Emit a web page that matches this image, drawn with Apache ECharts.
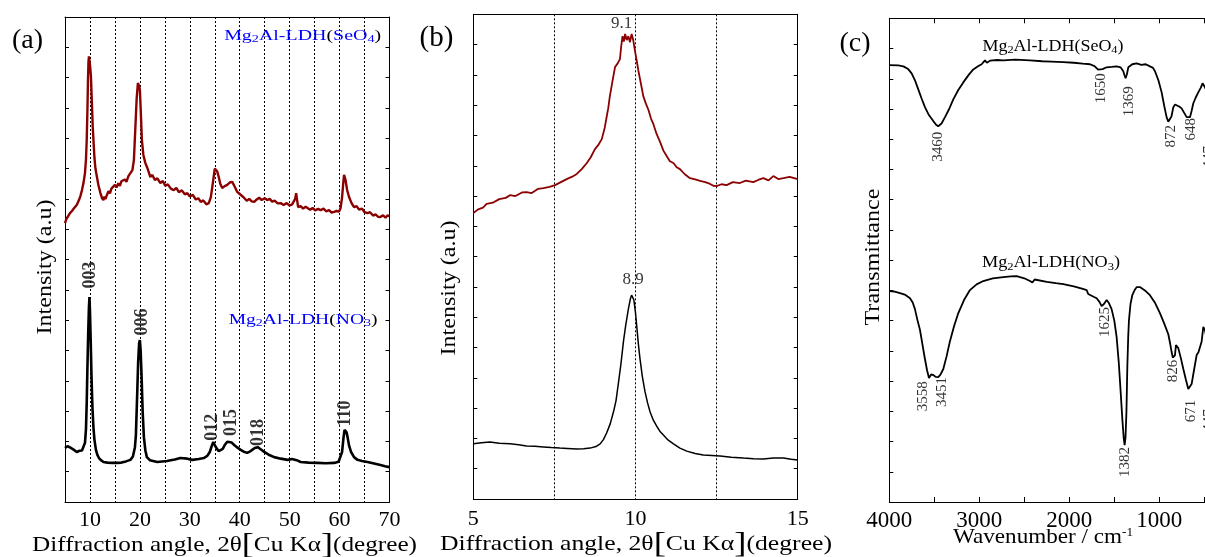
<!DOCTYPE html>
<html><head><meta charset="utf-8">
<script src="https://cdn.jsdelivr.net/npm/echarts@6/dist/echarts.min.js"></script>
<style>html,body{margin:0;padding:0;background:#fff}#c{width:1205px;height:557px}</style>
</head><body><div id="c"></div>
<script>
// ---------- data (a): XRD 5-70 deg ----------
const xrdA_SeO4 = [[5.0,92.0],[5.3,93.5],[5.6,94.2],[6.0,95.3],[6.4,96.0],[6.8,96.9],[7.35,98.0],[7.8,99.6],[8.1,101.0],[8.4,102.9],[8.7,105.2],[9.0,108.5],[9.2,113.0],[9.35,119.4],[9.5,130.0],[9.6,139.0],[9.7,145.2],[9.8,147.0],[9.9,146.5],[10.05,143.5],[10.2,140.2],[10.4,131.0],[10.55,124.0],[10.7,119.4],[10.9,113.5],[11.1,110.0],[11.4,107.2],[11.7,104.5],[12.1,101.9],[12.4,100.3],[12.7,99.6],[12.9,100.8],[13.1,99.9],[13.4,101.3],[13.7,102.5],[14.0,101.8],[14.3,103.4],[14.7,103.6],[15.0,104.6],[15.3,103.8],[15.7,105.1],[16.0,104.3],[16.3,105.8],[16.7,105.2],[17.0,106.4],[17.3,105.6],[17.7,107.5],[18.1,107.2],[18.5,109.5],[18.8,112.8],[19.1,123.7],[19.35,133.0],[19.6,138.2],[19.8,137.5],[20.0,135.9],[20.2,128.0],[20.4,119.4],[20.7,114.5],[21.1,111.8],[21.5,110.2],[22.1,107.2],[22.5,107.9],[23.0,106.2],[23.5,106.8],[24.1,105.2],[24.6,105.9],[25.1,104.3],[25.6,104.8],[26.2,103.4],[26.8,102.9],[27.3,103.6],[27.8,102.2],[28.4,102.8],[29.0,101.5],[29.5,101.9],[30.0,100.8],[30.6,101.3],[31.2,99.8],[31.7,100.2],[32.2,99.0],[32.7,99.5],[33.3,98.2],[33.8,98.6],[34.2,100.5],[34.5,103.9],[34.8,107.5],[35.0,110.0],[35.2,110.5],[35.5,109.0],[35.8,107.2],[36.1,105.0],[36.5,103.6],[37.0,104.2],[37.5,104.6],[38.0,105.4],[38.5,105.6],[39.0,104.0],[39.5,102.3],[40.0,101.6],[40.4,101.0],[40.9,100.3],[41.4,99.4],[41.9,100.0],[42.4,99.2],[42.9,99.0],[43.4,99.8],[43.9,100.4],[44.4,99.6],[45.0,100.2],[45.5,99.6],[46.0,100.0],[46.5,99.1],[47.0,99.4],[47.6,98.5],[48.2,98.6],[48.8,98.0],[49.4,98.6],[50.0,97.8],[50.5,98.2],[50.9,98.0],[51.1,100.0],[51.3,101.9],[51.5,99.5],[51.7,97.3],[52.2,97.6],[52.7,96.8],[53.2,97.4],[53.6,97.0],[54.1,96.4],[54.6,97.0],[55.1,96.2],[55.7,96.7],[56.2,96.3],[56.8,96.8],[57.3,95.9],[57.9,96.3],[58.4,95.5],[58.9,95.7],[59.4,96.0],[59.9,95.8],[60.2,97.0],[60.5,100.5],[60.75,105.5],[60.9,107.9],[61.05,107.5],[61.2,106.2],[61.5,103.0],[61.9,100.6],[62.4,98.6],[62.9,97.3],[63.4,97.6],[63.9,96.5],[64.5,96.8],[65.0,95.6],[65.6,95.3],[66.1,95.6],[66.7,94.5],[67.2,94.9],[67.7,94.1],[68.2,94.0],[68.7,94.6],[69.2,93.8],[69.6,94.5],[70.0,94.4]];
const xrdA_NO3 = [[5.0,17.8],[5.5,18.4],[6.0,18.0],[6.3,18.1],[6.8,17.2],[7.35,16.5],[7.9,16.9],[8.4,17.0],[8.7,17.2],[9.0,19.5],[9.2,24.0],[9.35,32.7],[9.5,45.0],[9.65,56.0],[9.8,64.5],[9.9,67.6],[10.0,63.0],[10.15,53.0],[10.3,42.0],[10.5,31.0],[10.7,24.5],[10.9,20.5],[11.2,17.2],[11.5,15.5],[11.8,14.5],[12.2,13.8],[12.7,13.2],[13.5,13.0],[14.5,12.9],[15.4,12.9],[16.3,13.0],[17.2,13.4],[18.1,13.9],[18.6,15.0],[19.0,18.0],[19.2,22.0],[19.45,35.0],[19.65,46.0],[19.85,52.5],[20.0,53.4],[20.15,50.0],[20.35,41.0],[20.55,30.0],[20.8,21.4],[21.1,17.0],[21.4,14.8],[22.0,13.8],[23.5,13.2],[25.4,13.5],[27.0,14.0],[28.1,14.5],[29.5,14.3],[30.5,13.9],[31.8,14.2],[32.8,14.5],[33.5,15.2],[34.0,16.5],[34.4,18.5],[34.7,19.8],[35.0,18.8],[35.4,17.6],[35.8,16.8],[36.2,16.5],[36.6,17.5],[37.0,18.8],[37.5,19.9],[37.9,20.5],[38.4,19.6],[38.9,18.8],[39.5,18.0],[40.2,17.2],[40.8,16.6],[41.5,16.2],[42.0,16.6],[42.5,17.2],[43.0,17.8],[43.6,18.1],[44.2,17.4],[44.9,16.5],[45.8,15.6],[46.9,14.8],[48.2,14.3],[49.6,13.9],[50.5,14.2],[50.9,14.5],[51.4,13.8],[52.2,13.2],[53.8,13.0],[55.6,12.9],[57.2,12.8],[58.9,12.9],[59.8,13.3],[60.2,13.9],[60.5,16.5],[60.8,21.4],[61.0,23.8],[61.2,24.4],[61.4,23.0],[61.6,21.4],[61.9,18.6],[62.3,16.5],[62.9,14.8],[63.6,13.9],[64.5,13.5],[65.6,13.2],[66.9,12.7],[68.2,12.2],[69.1,11.8],[70.0,11.5]];
const peakLabelsA = [['003',10.1,74.9],['006',20.46,59.4],['012',34.5,24.7],['015',38.3,26.2],['018',43.8,22.9],['110',61.2,29.2]];
const sampleLabelsA = [['SeO','4',52.6,153.6],['NO','3',52.7,59.9]];
const xTicksA = [10,20,30,40,50,60,70];

// ---------- data (b): XRD 5-15 deg ----------
const xrdB_SeO4 = [[5.0,94.4],[5.15,95.6],[5.3,96.2],[5.41,97.4],[5.6,97.8],[5.8,99.0],[6.0,99.4],[6.13,100.3],[6.3,100.0],[6.5,101.2],[6.64,101.3],[6.8,101.0],[7.0,102.4],[7.16,102.6],[7.35,103.0],[7.52,103.6],[7.7,104.6],[7.88,105.6],[8.05,106.4],[8.19,107.3],[8.35,109.0],[8.5,110.9],[8.62,112.8],[8.75,115.5],[8.85,116.8],[8.96,118.8],[9.05,122.5],[9.11,126.1],[9.16,129.0],[9.21,133.0],[9.3,138.5],[9.37,142.6],[9.45,143.8],[9.52,145.2],[9.56,149.5],[9.6,152.8],[9.64,151.0],[9.68,153.5],[9.73,151.5],[9.78,152.8],[9.83,150.8],[9.88,153.5],[9.93,151.5],[9.98,148.2],[10.04,144.5],[10.09,141.3],[10.16,137.5],[10.24,133.0],[10.32,130.5],[10.4,128.4],[10.48,125.5],[10.55,123.8],[10.65,120.5],[10.76,117.8],[10.86,115.0],[10.96,113.2],[11.06,111.5],[11.17,110.9],[11.27,109.5],[11.37,108.9],[11.52,107.2],[11.68,105.9],[11.84,105.5],[11.99,105.0],[12.15,104.6],[12.3,104.0],[12.4,103.4],[12.5,103.3],[12.65,103.9],[12.81,103.6],[13.0,104.6],[13.22,104.3],[13.4,105.1],[13.63,104.6],[13.8,105.4],[13.94,105.9],[14.1,105.2],[14.25,106.6],[14.4,105.6],[14.56,105.9],[14.75,106.3],[15.0,105.6]];
const xrdB_NO3 = [[5.0,18.2],[5.25,18.6],[5.51,18.8],[5.8,18.4],[6.13,18.2],[6.4,17.9],[6.64,17.5],[6.9,17.4],[7.16,17.2],[7.4,17.0],[7.67,16.8],[7.9,16.7],[8.19,16.5],[8.4,16.6],[8.6,16.8],[8.78,17.3],[8.91,18.2],[9.01,19.6],[9.11,21.8],[9.22,24.8],[9.32,28.7],[9.4,32.5],[9.47,38.0],[9.55,44.5],[9.63,52.1],[9.7,57.5],[9.78,62.7],[9.84,66.0],[9.88,67.3],[9.92,67.0],[9.95,65.7],[10.0,61.5],[10.04,56.8],[10.09,51.0],[10.14,46.2],[10.21,40.5],[10.29,35.6],[10.37,31.8],[10.45,28.7],[10.55,26.0],[10.65,24.1],[10.75,22.4],[10.86,21.1],[11.0,19.5],[11.17,18.2],[11.37,16.8],[11.58,15.8],[11.84,15.0],[12.09,14.5],[12.35,14.4],[12.61,14.2],[12.95,13.8],[13.33,13.5],[13.64,13.3],[13.94,13.2],[14.25,13.5],[14.56,13.5],[14.8,13.1],[15.0,12.9]];
const peakLabelsB = [['9.1',9.57,156.8],['8.9',9.93,72.3]];
const xTicksB = [5,10,15];

// ---------- data (c): FTIR ----------
const ftir_SeO4 = [[4000,144.5],[3900,144.4],[3844,144.1],[3790,143.2],[3752,141.8],[3715,139.5],[3678,136.5],[3640,133.4],[3604,130.6],[3560,128.0],[3511,126.0],[3480,124.8],[3456,124.3],[3420,125.2],[3381,127.3],[3335,130.0],[3289,133.2],[3235,136.2],[3178,138.8],[3120,141.2],[3067,143.1],[3010,144.2],[2974,144.8],[2937,146.1],[2915,145.3],[2900,145.5],[2880,146.0],[2800,146.2],[2733,146.1],[2600,146.3],[2437,146.1],[2300,145.8],[2200,145.7],[2067,145.5],[1950,145.3],[1850,145.0],[1770,144.8],[1720,144.2],[1680,143.0],[1659,142.8],[1630,143.2],[1585,143.8],[1530,143.9],[1474,144.1],[1430,143.8],[1400,142.5],[1385,141.0],[1374,140.2],[1360,141.5],[1344,143.8],[1300,144.8],[1252,145.1],[1200,144.6],[1150,144.8],[1104,144.1],[1070,143.6],[1048,142.5],[1010,139.5],[974,135.5],[945,131.0],[919,127.3],[900,125.8],[881,125.3],[865,127.5],[844,130.6],[825,131.5],[807,131.2],[780,130.8],[752,130.2],[725,128.8],[696,127.3],[675,126.8],[659,127.3],[640,129.5],[622,131.9],[595,133.8],[567,135.5],[540,137.0],[519,138.5],[505,138.0],[493,137.2],[470,135.5],[447,133.5],[420,133.0],[400,133.5]];
const ftir_NO3 = [[4000,69.8],[3940,69.6],[3881,69.1],[3820,68.5],[3770,67.4],[3740,66.0],[3715,63.8],[3690,60.5],[3659,56.9],[3630,51.8],[3604,47.3],[3580,43.5],[3559,41.0],[3535,42.2],[3511,42.0],[3485,41.4],[3456,41.3],[3430,42.2],[3400,44.0],[3365,48.0],[3326,53.2],[3280,58.2],[3233,62.5],[3170,66.8],[3104,70.1],[3030,72.0],[2956,73.1],[2850,74.0],[2733,74.4],[2650,74.6],[2585,74.7],[2500,74.0],[2437,73.1],[2410,72.6],[2400,72.4],[2385,73.6],[2363,73.4],[2250,72.8],[2150,72.4],[2067,72.1],[1950,71.3],[1850,70.5],[1807,70.1],[1790,68.8],[1770,68.4],[1730,67.9],[1696,67.4],[1665,66.2],[1641,64.8],[1615,65.5],[1585,66.8],[1560,65.8],[1530,63.8],[1500,60.0],[1474,54.5],[1450,46.0],[1430,36.7],[1410,27.1],[1395,21.0],[1385,18.8],[1375,21.5],[1365,30.0],[1355,45.0],[1345,55.0],[1337,60.2],[1320,65.5],[1300,68.4],[1270,70.3],[1250,71.1],[1215,71.1],[1160,70.0],[1104,68.4],[1050,66.0],[993,62.5],[945,59.0],[900,55.5],[880,52.5],[863,49.6],[850,47.8],[837,47.3],[826,48.5],[815,51.9],[800,51.5],[789,50.9],[760,47.5],[733,44.0],[705,40.5],[678,37.4],[660,37.2],[641,39.0],[615,43.5],[585,48.6],[565,49.5],[548,49.6],[530,53.0],[511,57.9],[500,57.5],[493,56.9],[470,53.5],[447,50.5],[420,50.0],[400,51.0]];
const peakLabelsC = [['3460',3459,117.5],['1650',1648,136.9],['1369',1340,132.6],['872',868,121.0],['648',642,123.3],['447',447,114.0],['3558',3626,35.0],['3451',3414,36.4],['1625',1602,59.5],['1382',1380,13.2],['826',848,43.3],['671',647,30.1],['447',447,27.0]];
const sampleLabelsC = [['SeO','4',2181,150.7],['NO','3',2203,79.0]];
const xTicksC = [1000,2000,3000,4000];

// ---------- rendering ----------
const SERIF = '"Liberation Serif","Times New Roman",serif';
const RED = '#8b0000';
const BLUE = '#0000ff';
const chart = echarts.init(document.getElementById('c'), null, {renderer:'canvas'});

function measure(segs){
  const ctx = document.createElement('canvas').getContext('2d');
  let w = 0;
  segs.forEach(([t,size,weight])=>{ctx.font=(weight||'normal')+' '+size+'px '+SERIF; w+=ctx.measureText(t).width;});
  return w;
}
function bottomAxis(grid,min,max,interval,ticks,opts){
  return Object.assign({
    type:'value',gridIndex:grid,min:min,max:max,interval:interval,position:'bottom',
    axisLine:{show:true,onZero:false,lineStyle:{color:'#000',width:1}},
    axisTick:{show:false},
    axisLabel:{show:true,color:'#000',fontFamily:SERIF,fontSize:22,margin:7,
      formatter:v=>ticks.indexOf(v)>=0?String(v):''},
    splitLine:{show:false}
  },opts||{});
}
function topAxis(grid,min,max,interval,opts){
  return Object.assign({
    type:'value',gridIndex:grid,min:min,max:max,interval:interval,position:'top',
    axisLine:{show:true,onZero:false,lineStyle:{color:'#000',width:1}},
    axisTick:{show:false},axisLabel:{show:false},splitLine:{show:false}
  },opts||{});
}
function yAx(grid,pos){
  return {type:'value',gridIndex:grid,min:0,max:160,interval:10,position:pos,
    axisLine:{show:true,onZero:false,lineStyle:{color:'#000',width:1}},
    axisTick:{show:true,inside:true,length:4,lineStyle:{color:'#000'}},
    axisLabel:{show:false},splitLine:{show:false}};
}
function line(data,xi,yi,color,width){
  return {type:'line',data:data,xAxisIndex:xi,yAxisIndex:yi,showSymbol:false,symbol:'none',
    lineStyle:{color:color,width:width},itemStyle:{color:color},silent:true,z:3};
}
function labels(list,xi,yi,lab){
  return {type:'scatter',xAxisIndex:xi,yAxisIndex:yi,symbolSize:1,silent:true,z:5,
    itemStyle:{color:'rgba(0,0,0,0)'},
    label:Object.assign({show:true,position:'inside',formatter:p=>p.name,fontFamily:SERIF,color:'#000'},lab),
    data:list.map(d=>({name:d[0],value:[d[1],d[2]]}))};
}
const dotted = {show:true,lineStyle:{color:'#000',width:1,type:[2,2]}};
const gridBase = {outerBoundsMode:'none',containLabel:false};

const option = {
  animation:false,
  backgroundColor:'#fff',
  grid:[
    Object.assign({left:65,top:17,width:324.5,height:485},gridBase),
    Object.assign({left:473.3,top:14.3,width:324.4,height:484.7},gridBase),
    Object.assign({left:889.3,top:18.3,width:360,height:483.7},gridBase)
  ],
  xAxis:[
    bottomAxis(0,5,70,5,xTicksA,{splitLine:dotted}),
    topAxis(0,5,70,5),
    bottomAxis(1,5,15,2.5,xTicksB,{splitLine:dotted,axisLabel:{show:true,color:'#000',fontFamily:SERIF,fontSize:22,margin:9,formatter:v=>xTicksB.indexOf(v)>=0?String(v):''}}),
    topAxis(1,5,15,2.5),
    bottomAxis(2,0,4000,500,xTicksC,{inverse:true,axisTick:{show:true,inside:true,length:5,lineStyle:{color:'#000'}},
      axisLabel:{show:true,color:'#000',fontFamily:SERIF,fontSize:23,margin:7,formatter:v=>xTicksC.indexOf(v)>=0?String(v):''}}),
    topAxis(2,0,4000,500,{inverse:true,axisTick:{show:true,inside:true,length:5,lineStyle:{color:'#000'}}})
  ],
  yAxis:[yAx(0,'left'),yAx(0,'right'),yAx(1,'left'),yAx(1,'right'),yAx(2,'left'),yAx(2,'right')],
  series:[
    line(xrdA_SeO4,0,0,RED,2.4),
    line(xrdA_NO3,0,0,'#000',2.6),
    labels(peakLabelsA,0,0,{rotate:90,fontSize:18,fontWeight:'bold'}),
    line(xrdB_SeO4,2,2,RED,1.8),
    line(xrdB_NO3,2,2,'#000',1.5),
    labels(peakLabelsB,2,2,{fontSize:17}),
    line(ftir_SeO4,4,4,'#000',1.8),
    line(ftir_NO3,4,4,'#000',1.8),
    labels(peakLabelsC,4,4,{rotate:90,fontSize:15})
  ]
};
chart.setOption(option);

// ---------- text overlays (stretched to the reference's proportions) ----------
function gtext(text,x,y,size,opts,rich){
  const st = {text:text,fontSize:size,fontFamily:SERIF,fill:'#000',align:'center',verticalAlign:'middle'};
  if(rich) st.rich = rich;
  return Object.assign({type:'text',x:x,y:y,silent:true,z:10,style:st},opts||{});
}
const xTitleSegs = [['Diffraction angle, 2θ',21],['[',30],['Cu Kα',21],[']',30],['(degree)',21]];
const xTitleW = measure(xTitleSegs);
const xTitleText = 'Diffraction angle, 2θ{b|[}Cu Kα{b|]}(degree)';
const xTitleRich = {b:{fontSize:30,fontFamily:SERIF,fill:'#000'}};
const wnW = measure([['Wavenumber / cm',21],['-1',12]]);
const intW = measure([['Intensity (a.u)',22]]);
const trW = measure([['Transmittance',22]]);

function sampleText(lbl,xi,yi,size,sub,color,target){
  const p = chart.convertToPixel({xAxisIndex:xi,yAxisIndex:yi},[lbl[2],lbl[3]]);
  const w = measure([['Mg',size],['2',sub],['Al-LDH(',size],[lbl[0],size],[lbl[1],sub],[')',size]]);
  const rich = {
    m:{fontSize:size,fontFamily:SERIF,fill:color},
    s:{fontSize:sub,fontFamily:SERIF,fill:color,verticalAlign:'bottom',lineHeight:size+2},
    k:{fontSize:size,fontFamily:SERIF,fill:'#000'}
  };
  const txt = '{m|Mg}{s|2}{m|Al-LDH}{k|(}{m|'+lbl[0]+'}{s|'+lbl[1]+'}{k|)}';
  return gtext(txt,p[0],p[1],size,{scaleX:target/w},rich);
}

const graphics = [
  gtext('(a)',27.5,41,28),
  gtext('(b)',436.5,38,29),
  gtext('(c)',855,44,28),
  gtext(xTitleText,224.5,545,21,{scaleX:385/xTitleW},xTitleRich),
  gtext(xTitleText,636,544,21,{scaleX:392/xTitleW},xTitleRich),
  gtext('Wavenumber / cm{p|-1}',1043,537,21,{scaleX:180/wnW},{p:{fontSize:12,fontFamily:SERIF,fill:'#000',verticalAlign:'top',lineHeight:20}}),
  gtext('Intensity (a.u)',45,267,22,{rotation:Math.PI/2,scaleX:135/intW}),
  gtext('Intensity (a.u)',449,288,22,{rotation:Math.PI/2,scaleX:135/intW}),
  gtext('Transmittance',873,257,22,{rotation:Math.PI/2,scaleX:137/trW}),
  sampleText(sampleLabelsA[0],0,0,14,10,BLUE,157),
  sampleText(sampleLabelsA[1],0,0,14,10,BLUE,149),
  sampleText(sampleLabelsC[0],4,4,16,11,'#000',141),
  sampleText(sampleLabelsC[1],4,4,16,11,'#000',138)
];
chart.setOption({graphic:graphics});
</script>
</body></html>
